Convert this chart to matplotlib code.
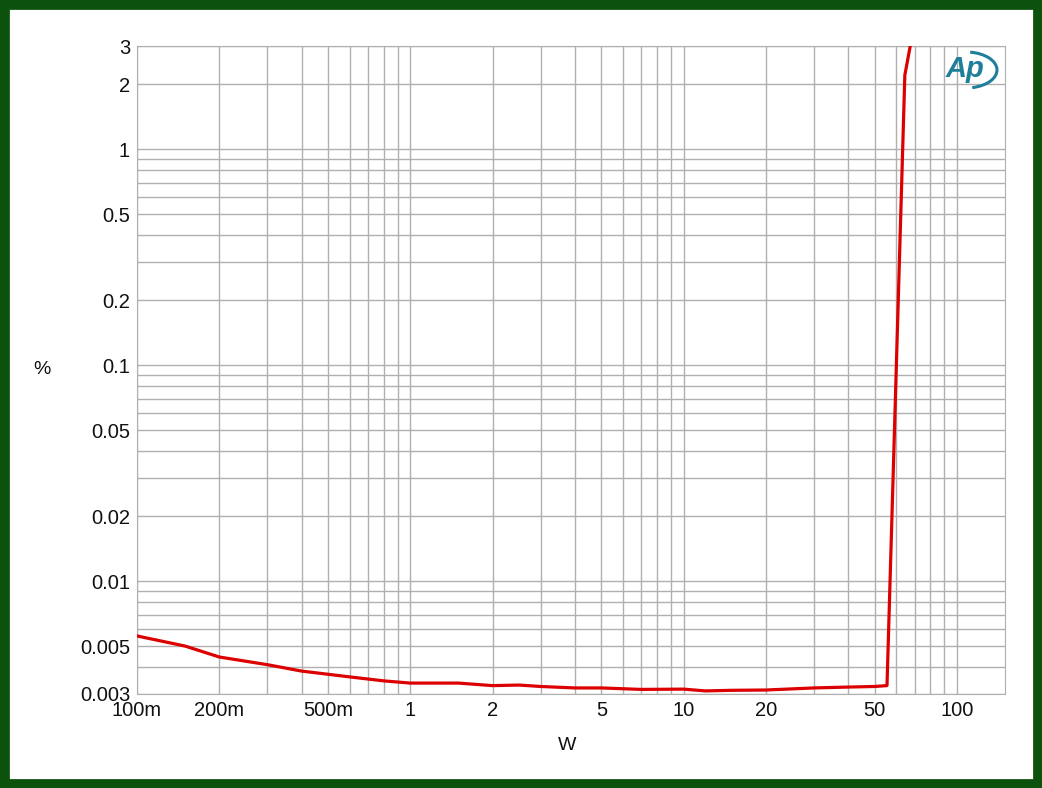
import matplotlib.pyplot as plt
import numpy as np
from matplotlib.patches import Arc, Rectangle

plt.rcParams['font.family'] = ['Liberation Sans', 'DejaVu Sans']

# THD+N (%) vs output power (W)
power = [0.1, 0.15, 0.2, 0.3, 0.4, 0.6, 0.8, 1.0, 1.5, 2.0, 2.5, 3.0, 4.0, 5.0,
         7.0, 10.0, 12.0, 15.0, 20.0, 30.0, 40.0, 50.0, 55.5, 64.5, 67.5]
thd = [0.00557, 0.0050, 0.00445, 0.0041, 0.00383, 0.0036, 0.00345, 0.00337,
       0.00337, 0.00328, 0.0033, 0.00325, 0.0032, 0.0032, 0.00315, 0.00316,
       0.0031, 0.00312, 0.00313, 0.0032, 0.00323, 0.00325, 0.00328, 2.2, 3.0]

xticks = [0.1, 0.2, 0.5, 1, 2, 5, 10, 20, 50, 100]
xtick_labels = ["100m", "200m", "500m", "1", "2", "5", "10", "20", "50", "100"]
yticks = [0.003, 0.005, 0.01, 0.02, 0.05, 0.1, 0.2, 0.5, 1, 2, 3]
ytick_labels = ["0.003", "0.005", "0.01", "0.02", "0.05", "0.1", "0.2", "0.5", "1", "2", "3"]

fig = plt.figure(figsize=(10.42, 7.88), dpi=100)
fig.patch.set_facecolor('white')
# green frame
fig.patches.append(Rectangle((0, 0), 1, 1, transform=fig.transFigure, fill=False,
                             edgecolor='#0c520c', linewidth=13.5, zorder=10))

ax = fig.add_axes([0.1315, 0.1193, 0.833, 0.8223])
ax.plot(power, thd, color='#dc0000', linewidth=2.3, zorder=3)
ax.set_xscale('log')
ax.set_yscale('log')
ax.set_xlim(0.1, 150)
ax.set_ylim(0.003, 3)

ax.set_xticks(xticks)
ax.set_xticklabels(xtick_labels)
ax.set_yticks(yticks)
ax.set_yticklabels(ytick_labels)
ax.minorticks_off()
ax.set_xticks([m * d for d in [0.1, 1, 10, 100] for m in range(1, 10) if 0.1 <= m * d <= 150], minor=True)
ax.set_yticks([m * d for d in [0.001, 0.01, 0.1, 1] for m in range(1, 10) if 0.003 <= m * d <= 3], minor=True)
ax.set_xticklabels([], minor=True)
ax.set_yticklabels([], minor=True)
ax.tick_params(which='both', length=0, labelsize=14.5, colors='#111111', pad=5)

#grid
ax.grid(which='both', color='#b0b0b0', linewidth=1.0)
for s in ax.spines.values():
    s.set_color('#b0b0b0')

fig.text(42 / 1042, 1 - 370 / 788, "%", fontsize=14, color='#111111', ha='center', va='center')
fig.text(567 / 1042, 1 - 745 / 788, "W", fontsize=14, color='#111111', ha='center', va='center')

# Ap logo
fig.text(965 / 1042, 1 - 69 / 788, "Ap", fontsize=21, color='#1f7f9a', style='italic',
         weight='bold', ha='center', va='center')
fig.patches.append(Arc((966 / 1042, 1 - 70 / 788), 62 / 1042, 36 / 788, theta1=-75, theta2=80,
                       transform=fig.transFigure, color='#1f7f9a', linewidth=2.2))

fig.savefig('out.png', dpi=100)
